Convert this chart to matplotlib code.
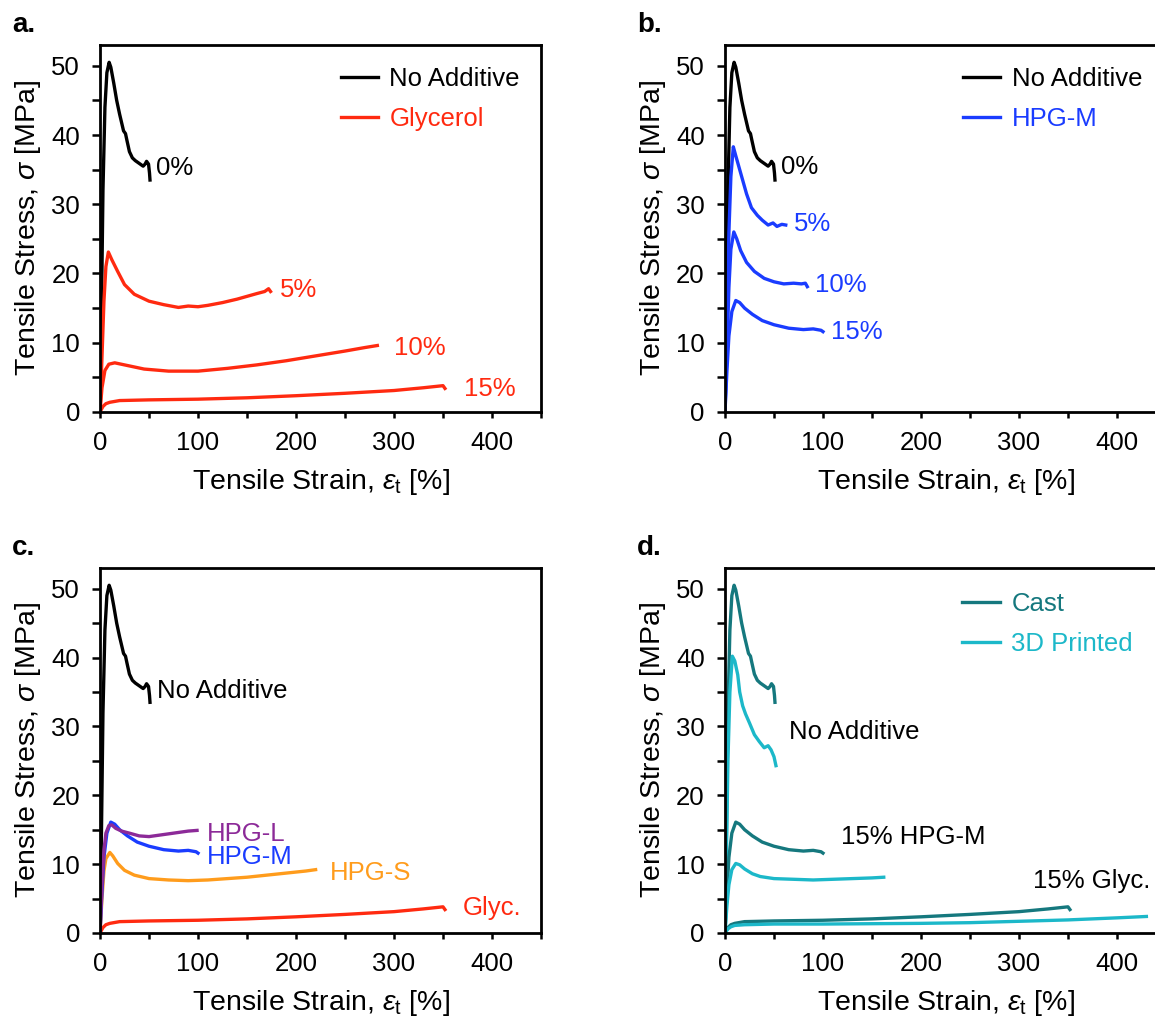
import matplotlib
matplotlib.use("Agg")
import matplotlib.pyplot as plt
from matplotlib.ticker import MultipleLocator

plt.rcParams["font.family"] = ["Liberation Sans", "DejaVu Sans"]
plt.rcParams["mathtext.fontset"] = "custom"
plt.rcParams["mathtext.rm"] = "Liberation Sans"
plt.rcParams["mathtext.it"] = "Liberation Sans:italic"

# ── Colours ───────────────────────────────────────────────────────────────────
C_NONE = "#000000"
C_GLY = "#ff2a10"
C_HPGM = "#1a3cff"
C_HPGL = "#8c2a98"
C_HPGS = "#ff9c1c"
C_CAST = "#15787e"
C_PRINT = "#1cb8c9"

# ── Data (strain %, stress MPa) ──────────────────────────────────────────────
no_add_x = [0, 1.5, 3, 5, 7, 9.3, 11, 14, 17, 20, 24, 26, 27.5, 30, 33, 36, 40, 44, 46, 47.5, 49.5, 50.5, 51]
no_add_y = [0, 15, 32, 44, 49, 50.5, 49.8, 47.5, 45, 43, 40.6, 40.2, 39.2, 37.6, 36.7, 36.3, 35.9, 35.5, 35.8, 36.2, 35.8, 34.5, 33.5]

gly5_x = [0, 2, 4, 6, 8.5, 12, 18, 25, 35, 50, 65, 80, 90, 100, 110, 125, 140, 150, 160, 168, 172, 174]
gly5_y = [0, 8, 16, 21, 23.1, 22, 20.3, 18.4, 17.0, 16.0, 15.5, 15.1, 15.3, 15.2, 15.4, 15.8, 16.3, 16.7, 17.1, 17.4, 17.8, 17.4]

gly10_x = [0, 2, 5, 9, 15, 25, 45, 70, 100, 130, 160, 190, 220, 250, 270, 283]
gly10_y = [0, 3.5, 6.0, 6.9, 7.1, 6.8, 6.2, 5.9, 5.9, 6.3, 6.8, 7.4, 8.1, 8.8, 9.3, 9.6]

gly15_x = [0, 3, 6, 10, 20, 50, 100, 150, 200, 250, 300, 330, 350, 352]
gly15_y = [0, 0.8, 1.2, 1.4, 1.65, 1.75, 1.85, 2.05, 2.35, 2.7, 3.1, 3.5, 3.8, 3.4]

hpgm5_x = [0, 2, 4, 6, 8.5, 11, 14, 18, 22, 27, 33, 38, 44, 49, 53, 58, 62]
hpgm5_y = [0, 12, 26, 34, 38.3, 37, 35.5, 33.5, 31.5, 29.5, 28.4, 27.7, 27.0, 27.3, 26.8, 27.1, 27.0]

hpgm10_x = [0, 2, 4, 6, 9, 12, 16, 22, 30, 40, 50, 60, 70, 78, 82, 84]
hpgm10_y = [0, 9, 18, 23.5, 26, 25, 23.3, 21.6, 20.3, 19.3, 18.8, 18.5, 18.6, 18.5, 18.6, 18.1]

hpgm15_x = [0, 2, 4, 7, 11, 15, 20, 28, 38, 50, 65, 80, 90, 98, 100]
hpgm15_y = [0, 6, 11, 14.5, 16.1, 15.8, 15.0, 14.1, 13.2, 12.6, 12.1, 11.9, 12.0, 11.8, 11.6]

hpgl_x = [0, 2, 4, 6, 9, 12, 16, 22, 30, 40, 50, 60, 70, 80, 90, 99]
hpgl_y = [0, 7, 12, 14.5, 15.6, 15.7, 15.2, 14.8, 14.5, 14.1, 14.0, 14.2, 14.4, 14.6, 14.8, 14.9]

hpgs_x = [0, 2, 4, 6, 10, 13, 18, 25, 35, 50, 70, 90, 110, 130, 150, 170, 190, 210, 220]
hpgs_y = [0, 5, 9, 10.8, 11.7, 11.2, 10.1, 9.1, 8.4, 7.9, 7.7, 7.6, 7.7, 7.9, 8.1, 8.4, 8.7, 9.0, 9.2]

print_noadd_x = [0, 1.5, 3, 5, 7.5, 10, 13, 15, 18, 21, 25, 30, 35, 40, 44, 47, 50, 52]
print_noadd_y = [0, 12, 25, 35, 40.2, 39.5, 37.5, 35, 33, 31.8, 30.5, 28.8, 27.8, 26.9, 27.2, 26.6, 25.6, 24.3]

print_hpgm_x = [0, 2, 4, 7, 11, 15, 20, 28, 36, 50, 70, 90, 110, 130, 150, 162]
print_hpgm_y = [0, 4, 7, 9.2, 10.1, 9.9, 9.3, 8.6, 8.2, 7.9, 7.8, 7.7, 7.8, 7.9, 8.0, 8.1]

print_gly_x = [0, 3, 6, 10, 20, 50, 100, 150, 200, 250, 300, 350, 400, 430]
print_gly_y = [0, 0.6, 0.9, 1.1, 1.2, 1.3, 1.3, 1.35, 1.4, 1.5, 1.7, 1.9, 2.2, 2.4]

LW = 2.4
FS = 18.5


def style_axes(ax):
    ax.set_xlim(0, 450)
    ax.set_ylim(0, 53)
    ax.xaxis.set_major_locator(MultipleLocator(100))
    ax.xaxis.set_minor_locator(MultipleLocator(50))
    ax.yaxis.set_major_locator(MultipleLocator(10))
    ax.yaxis.set_minor_locator(MultipleLocator(5))
    ax.tick_params(axis="x", which="both", direction="out", length=4.5, width=1.8,
                   labelsize=FS, pad=9)
    ax.tick_params(axis="y", which="both", direction="out", length=5.5, width=1.8,
                   labelsize=FS, pad=9)
    for sp in ax.spines.values():
        sp.set_linewidth(2.0)
    ax.set_xlabel(r"Tensile Strain, $\varepsilon_{\mathrm{t}}$ [%]", fontsize=20.5, labelpad=9)
    ax.set_ylabel(r"Tensile Stress, $\sigma$ [MPa]", fontsize=20.5, labelpad=6)


def add_legend(ax, anchor):
    ax.legend(loc="upper right", bbox_to_anchor=anchor, frameon=False, fontsize=FS,
              labelcolor="linecolor", handlelength=1.45, handletextpad=0.45,
              labelspacing=0.62, borderpad=0, borderaxespad=0)


fig = plt.figure(figsize=(11.55, 10.18), dpi=100)
ax_a = fig.add_axes([0.0866, 0.5953, 0.3818, 0.3605])
ax_b = fig.add_axes([0.6277, 0.5953, 0.3818, 0.3605])
ax_c = fig.add_axes([0.0866, 0.0835, 0.3818, 0.3585])
ax_d = fig.add_axes([0.6277, 0.0835, 0.3818, 0.3585])

# ── a: glycerol ───────────────────────────────────────────────────────────────
ax = ax_a
ax.plot(no_add_x, no_add_y, color=C_NONE, lw=LW, label="No Additive")
ax.plot(gly5_x, gly5_y, color=C_GLY, lw=LW, label="Glycerol")
ax.plot(gly10_x, gly10_y, color=C_GLY, lw=LW)
ax.plot(gly15_x, gly15_y, color=C_GLY, lw=LW)
ax.text(57, 35.2, "0%", color=C_NONE, fontsize=FS, va="center")
ax.text(184, 17.6, "5%", color=C_GLY, fontsize=FS, va="center")
ax.text(300, 9.3, "10%", color=C_GLY, fontsize=FS, va="center")
ax.text(371, 3.3, "15%", color=C_GLY, fontsize=FS, va="center")
style_axes(ax)
add_legend(ax, (0.952, 0.94))

# ── b: HPG-M ──────────────────────────────────────────────────────────────────
ax = ax_b
ax.plot(no_add_x, no_add_y, color=C_NONE, lw=LW, label="No Additive")
ax.plot(hpgm5_x, hpgm5_y, color=C_HPGM, lw=LW, label="HPG-M")
ax.plot(hpgm10_x, hpgm10_y, color=C_HPGM, lw=LW)
ax.plot(hpgm15_x, hpgm15_y, color=C_HPGM, lw=LW)
ax.text(56.7, 35.4, "0%", color=C_NONE, fontsize=FS, va="center")
ax.text(70.5, 27.1, "5%", color=C_HPGM, fontsize=FS, va="center")
ax.text(91.8, 18.3, "10%", color=C_HPGM, fontsize=FS, va="center")
ax.text(108, 11.6, "15%", color=C_HPGM, fontsize=FS, va="center")
style_axes(ax)
add_legend(ax, (0.946, 0.94))

# ── c: additive comparison at 15 % ───────────────────────────────────────────
ax = ax_c
ax.plot(no_add_x, no_add_y, color=C_NONE, lw=LW)
ax.plot(gly15_x, gly15_y, color=C_GLY, lw=LW)
ax.plot(hpgs_x, hpgs_y, color=C_HPGS, lw=LW)
ax.plot(hpgm15_x, hpgm15_y, color=C_HPGM, lw=LW)
ax.plot(hpgl_x, hpgl_y, color=C_HPGL, lw=LW)
ax.text(58, 35.1, "No Additive", color=C_NONE, fontsize=FS, va="center")
ax.text(108.7, 14.4, "HPG-L", color=C_HPGL, fontsize=FS, va="center")
ax.text(109.5, 11.1, "HPG-M", color=C_HPGM, fontsize=FS, va="center")
ax.text(235, 8.7, "HPG-S", color=C_HPGS, fontsize=FS, va="center")
ax.text(370, 3.7, "Glyc.", color=C_GLY, fontsize=FS, va="center")
style_axes(ax)

# ── d: cast vs 3D printed ─────────────────────────────────────────────────────
ax = ax_d
ax.plot(no_add_x, no_add_y, color=C_CAST, lw=LW, label="Cast")
ax.plot(print_noadd_x, print_noadd_y, color=C_PRINT, lw=LW, label="3D Printed")
ax.plot(hpgm15_x, hpgm15_y, color=C_CAST, lw=LW)
ax.plot(print_hpgm_x, print_hpgm_y, color=C_PRINT, lw=LW)
ax.plot(gly15_x, gly15_y, color=C_CAST, lw=LW)
ax.plot(print_gly_x, print_gly_y, color=C_PRINT, lw=LW)
ax.text(65.8, 29.2, "No Additive", color="black", fontsize=FS, va="center")
ax.text(118, 14.0, "15% HPG-M", color="black", fontsize=FS, va="center")
ax.text(314, 7.6, "15% Glyc.", color="black", fontsize=FS, va="center")
style_axes(ax)
add_legend(ax, (0.925, 0.935))

# ── panel letters ─────────────────────────────────────────────────────────────
for x, y, s in [(0.0105, 0.975, "a."), (0.5515, 0.975, "b."),
                (0.0105, 0.462, "c."), (0.5515, 0.462, "d.")]:
    fig.text(x, y, s, fontsize=20, fontweight="bold", va="center")

fig.savefig("out.png", dpi=100)
